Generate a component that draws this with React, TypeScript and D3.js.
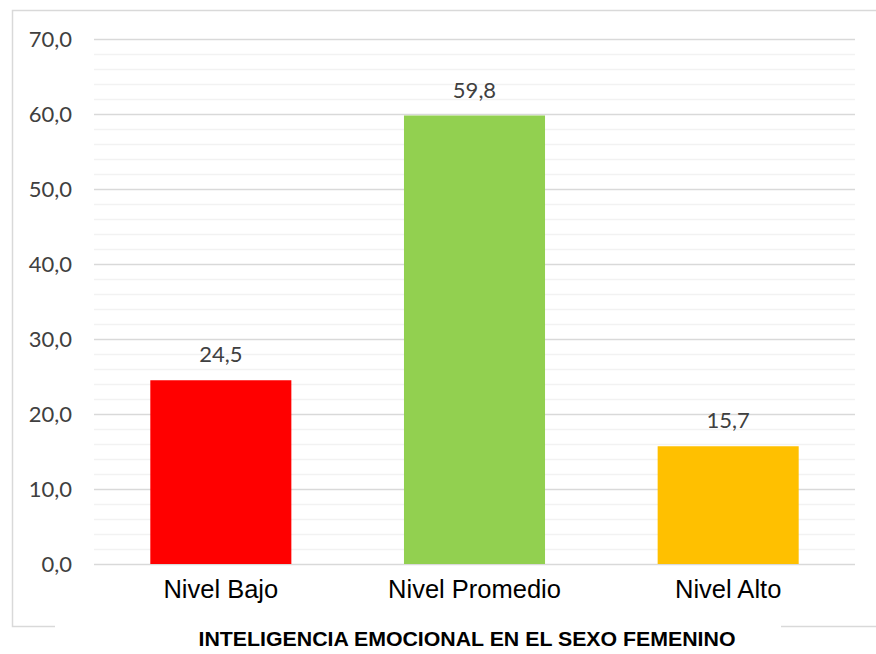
import { useEffect, useRef } from "react";
import * as d3 from "d3";

const categories = ["Nivel Bajo", "Nivel Promedio", "Nivel Alto"];
const values = [24.5, 59.8, 15.7];
const barColors = ["#FF0000", "#92D050", "#FFC000"];
const majorTicks = [0, 10, 20, 30, 40, 50, 60, 70];
const minorTicks = d3.range(0, 70.01, 2);
const title = "INTELIGENCIA EMOCIONAL EN EL SEXO FEMENINO";

const fmt = (v: number) => v.toFixed(1).replace(".", ",");

export default function App() {
  const ref = useRef<SVGSVGElement | null>(null);

  useEffect(() => {
    if (!ref.current) return;
    ref.current.innerHTML = "";
    const svg = d3.select(ref.current);

    // chart area
    const left = 94,
      right = 855,
      top = 39,
      bottom = 564;

    const x = d3
      .scaleBand()
      .domain(categories)
      .range([left, right])
      .paddingInner(0.444)
      .paddingOuter(0.222);
    const y = d3.scaleLinear().domain([0, 70]).range([bottom, top]);

    // outer frame (bottom edge broken by title)
    svg
      .append("path")
      .attr("d", "M55,626.5 H12.5 V10.5 H880")
      .attr("fill", "none")
      .attr("stroke", "#d9d9d9")
      .attr("stroke-width", 1.5);
    svg
      .append("line")
      .attr("x1", 781)
      .attr("x2", 880)
      .attr("y1", 626.5)
      .attr("y2", 626.5)
      .attr("stroke", "#d9d9d9")
      .attr("stroke-width", 1.5);

    // minor gridlines
    svg
      .append("g")
      .selectAll("line")
      .data(minorTicks.filter((t) => t % 10 !== 0))
      .join("line")
      .attr("x1", left)
      .attr("x2", right)
      .attr("y1", (d) => Math.round(y(d)) + 0.5)
      .attr("y2", (d) => Math.round(y(d)) + 0.5)
      .attr("stroke", "#f2f2f2")
      .attr("stroke-width", 1.5);

    // major gridlines
    svg
      .append("g")
      .selectAll("line")
      .data(majorTicks)
      .join("line")
      .attr("x1", left)
      .attr("x2", right)
      .attr("y1", (d) => Math.round(y(d)) + 0.5)
      .attr("y2", (d) => Math.round(y(d)) + 0.5)
      .attr("stroke", "#d9d9d9")
      .attr("stroke-width", 1.5);

    // y tick labels
    svg
      .append("g")
      .selectAll("text")
      .data(majorTicks)
      .join("text")
      .attr("x", 72)
      .attr("y", (d) => y(d) + 8)
      .attr("text-anchor", "end")
      .attr("font-family", "Lato, 'Open Sans', sans-serif")
      .attr("font-size", 22)
      .attr("fill", "#404040")
      .text((d) => fmt(d));

    // bars
    svg
      .append("g")
      .selectAll("rect")
      .data(values)
      .join("rect")
      .attr("x", (_, i) => x(categories[i])!)
      .attr("width", x.bandwidth())
      .attr("y", (d) => y(d))
      .attr("height", (d) => y(0) - y(d))
      .attr("fill", (_, i) => barColors[i]);

    // value labels
    svg
      .append("g")
      .selectAll("text")
      .data(values)
      .join("text")
      .attr("x", (_, i) => x(categories[i])! + x.bandwidth() / 2)
      .attr("y", (d) => y(d) - 18)
      .attr("text-anchor", "middle")
      .attr("font-family", "Lato, 'Open Sans', sans-serif")
      .attr("font-size", 22)
      .attr("fill", "#404040")
      .text((d) => fmt(d));

    // category labels
    svg
      .append("g")
      .selectAll("text")
      .data(categories)
      .join("text")
      .attr("x", (d) => x(d)! + x.bandwidth() / 2)
      .attr("y", 598)
      .attr("text-anchor", "middle")
      .attr("font-family", "'Liberation Sans', Arial, sans-serif")
      .attr("font-size", 25.5)
      .attr("fill", "#000")
      .text((d) => d);

    // title
    svg
      .append("text")
      .attr("x", 467)
      .attr("y", 646)
      .attr("text-anchor", "middle")
      .attr("font-family", "'Liberation Sans', Arial, sans-serif")
      .attr("font-weight", "bold")
      .attr("font-size", 20)
      .attr("textLength", 537)
      .attr("lengthAdjust", "spacingAndGlyphs")
      .attr("fill", "#000")
      .text(title);
  }, []);

  return (
    <div style={{ position: "absolute", left: 0, top: 0 }}>
      <svg ref={ref} width={876} height={654} style={{ display: "block", background: "#fff" }} />
    </div>
  );
}
